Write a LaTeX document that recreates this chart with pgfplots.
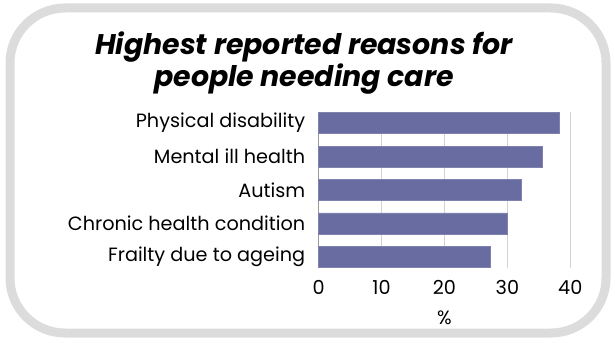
\documentclass[border=0pt]{standalone}
\usepackage{pgfplots}
\pgfplotsset{compat=1.18}
\usepackage{fontspec}
\setmainfont{Poppins}
\definecolor{barcol}{HTML}{686CA0}
\definecolor{framecol}{HTML}{DCDCDC}
\begin{document}
\begin{tikzpicture}[x=1bp,y=1bp]
\useasboundingbox (0,0) rectangle (615,342);
\draw[framecol, line width=9bp, rounded corners=55bp] (10,9) rectangle (606,334);
\node[align=center, font=\fontsize{28.5}{32}\selectfont\bfseries\itshape] at (304,279) {Highest reported reasons for\\people needing care};
\begin{axis}[
  at={(318.7bp,74bp)}, anchor=south west,
  scale only axis, width=251.6bp, height=156bp,
  xbar, bar width=21bp,
  xmin=0, xmax=40, ymin=-0.33, ymax=4.33,
  y dir=reverse,
  ytick={0,1,2,3,4},
  yticklabels={Physical disability, Mental ill health, Autism, Chronic health condition, Frailty due to ageing},
  xtick={0,10,20,30,40},
  xmajorgrids, grid style={gray!35, line width=0.8bp},
  axis x line*=bottom, axis y line*=left,
  x axis line style={draw=none},
  y axis line style={draw=gray!80, line width=0.8bp},
  major tick length=0pt,
  tick style={draw=none},
  /pgf/number format/assume math mode=true,
  ticklabel style={font=\fontsize{19.3}{21}\selectfont},
  yticklabel style={xshift=-10bp},
  xticklabel style={yshift=-9bp},
  xlabel={\%}, xlabel style={font=\fontsize{19.3}{21}\selectfont, yshift=-9bp},
  clip=false,
]
\addplot[fill=barcol, draw=barcol!85!white, line width=0.5bp] coordinates {
(38.3,0) (35.5,1) (32.2,2) (29.9,3) (27.3,4)};
\end{axis}
\end{tikzpicture}
\end{document}
